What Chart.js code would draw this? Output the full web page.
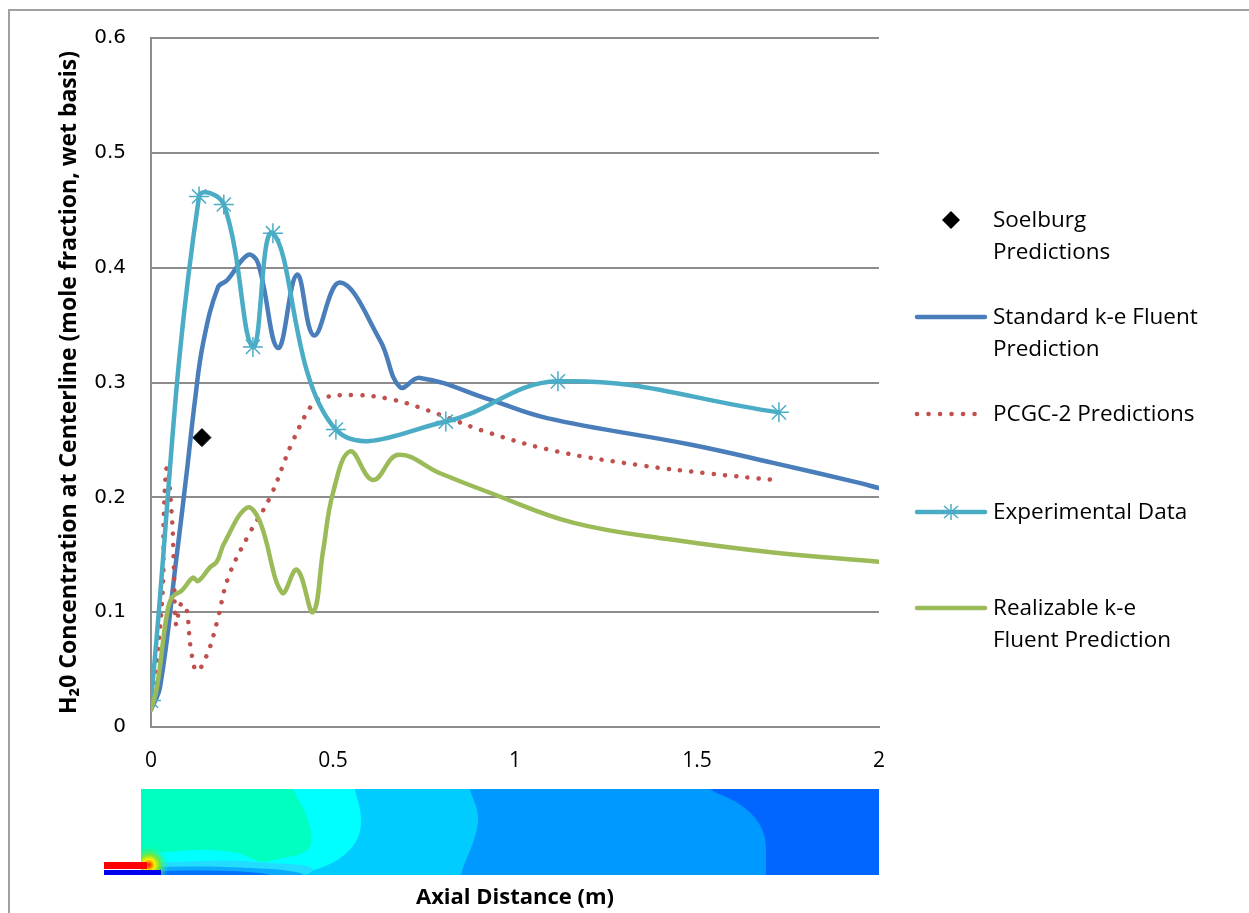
<!DOCTYPE html>
<html>
<head>
<meta charset="utf-8">
<script src="https://cdn.jsdelivr.net/npm/chart.js@4.4.0/dist/chart.umd.min.js"></script>
<style>
  html, body { margin: 0; padding: 0; background: #fff; }
  #wrap { position: relative; width: 1249px; height: 913px; overflow: hidden; }
  #frame { position: absolute; left: 8px; top: 9px; width: 1400px; height: 1000px; border: 2px solid #a0a0a0; box-sizing: border-box; }
  #chart { position: absolute; left: 0; top: 0; }
  .lg { position: absolute; left: 993px; font-family: "Open Sans", sans-serif; font-size: 22.5px; line-height: 32px; color: #000; white-space: nowrap; }
  .sw { position: absolute; left: 910px; }
</style>
</head>
<body>
<div id="wrap">
  <div id="frame"></div>
  <canvas id="chart" width="1249" height="913"></canvas>

  <svg class="sw" style="top:210px" width="82" height="20"><path d="M41 1 L50 10 L41 19 L32 10 Z" fill="#000"/></svg>
  <div class="lg" style="top:203px">Soelburg<br>Predictions</div>

  <svg class="sw" style="top:307px" width="82" height="20"><line x1="7" y1="10" x2="75" y2="10" stroke="#4A7EBB" stroke-width="4.5" stroke-linecap="round"/></svg>
  <div class="lg" style="top:300px">Standard k-e Fluent<br>Prediction</div>

  <svg class="sw" style="top:404px" width="82" height="20"><line x1="7" y1="10" x2="75" y2="10" stroke="#C0504D" stroke-width="4.5" stroke-linecap="round" stroke-dasharray="0.1 11.4"/></svg>
  <div class="lg" style="top:397px">PCGC-2 Predictions</div>

  <svg class="sw" style="top:502px" width="82" height="20"><line x1="7" y1="10" x2="75" y2="10" stroke="#4BACC6" stroke-width="4.5" stroke-linecap="round"/>
    <g stroke="#4BACC6" stroke-width="1.5"><line x1="41" y1="2" x2="41" y2="18"/><line x1="34" y1="4" x2="48" y2="16"/><line x1="48" y1="4" x2="34" y2="16"/></g></svg>
  <div class="lg" style="top:495px">Experimental Data</div>

  <svg class="sw" style="top:598px" width="82" height="20"><line x1="7" y1="10" x2="75" y2="10" stroke="#9BBB59" stroke-width="4.5" stroke-linecap="round"/></svg>
  <div class="lg" style="top:591px">Realizable k-e<br>Fluent Prediction</div>
</div>

<script>
// values
const soelburgX = [0.14];
const soelburgY = [0.252];

const standardX = [0, 0.025, 0.069, 0.099, 0.121, 0.143, 0.184, 0.209, 0.266, 0.294, 0.349, 0.401, 0.448, 0.519, 0.629, 0.684, 0.739, 0.931, 1.088, 1.481, 1.709, 1.94, 2.0];
const standardY = [0.015, 0.035, 0.145, 0.224, 0.285, 0.334, 0.383, 0.389, 0.411, 0.404, 0.330, 0.394, 0.341, 0.387, 0.337, 0.296, 0.304, 0.285, 0.269, 0.246, 0.230, 0.213, 0.208];

const pcgcX = [0, 0.019, 0.033, 0.035, 0.044, 0.058, 0.063, 0.069, 0.082, 0.096, 0.110, 0.126, 0.154, 0.181, 0.212, 0.266, 0.327, 0.387, 0.445, 0.473, 0.566, 0.665, 0.758, 0.931, 1.115, 1.343, 1.527, 1.714];
const pcgcY = [0.019, 0.067, 0.125, 0.183, 0.226, 0.180, 0.137, 0.089, 0.107, 0.105, 0.067, 0.049, 0.063, 0.091, 0.130, 0.166, 0.200, 0.247, 0.282, 0.287, 0.289, 0.285, 0.276, 0.256, 0.240, 0.228, 0.221, 0.215];

const experimentalX = [0, 0.132, 0.2, 0.28, 0.335, 0.508, 0.81, 1.118, 1.725];
const experimentalY = [0.023, 0.462, 0.455, 0.331, 0.430, 0.259, 0.266, 0.301, 0.274];

const realizableX = [0, 0.016, 0.044, 0.058, 0.085, 0.115, 0.129, 0.162, 0.181, 0.201, 0.264, 0.299, 0.360, 0.401, 0.445, 0.473, 0.500, 0.547, 0.610, 0.679, 0.794, 0.931, 1.159, 1.434, 1.709, 2.0];
const realizableY = [0.015, 0.034, 0.099, 0.113, 0.119, 0.130, 0.127, 0.139, 0.144, 0.160, 0.191, 0.179, 0.117, 0.137, 0.100, 0.154, 0.204, 0.240, 0.215, 0.237, 0.221, 0.204, 0.178, 0.163, 0.152, 0.144];

const xTicks = [0, 0.5, 1, 1.5, 2];
const yTicks = [0, 0.1, 0.2, 0.3, 0.4, 0.5, 0.6];

function pts(xs, ys) { return xs.map((x, i) => ({ x: x, y: ys[i] })); }

// smooth closed shape through points (midpoint quadratics)
function smoothShape(ctx, p, color) {
  ctx.fillStyle = color;
  ctx.beginPath();
  const n = p.length;
  let m0 = [(p[n - 1][0] + p[0][0]) / 2, (p[n - 1][1] + p[0][1]) / 2];
  ctx.moveTo(m0[0], m0[1]);
  for (let i = 0; i < n; i++) {
    const a = p[i], b = p[(i + 1) % n];
    ctx.quadraticCurveTo(a[0], a[1], (a[0] + b[0]) / 2, (a[1] + b[1]) / 2);
  }
  ctx.closePath();
  ctx.fill();
}

// CFD contour strip under the x axis
const contourPlugin = {
  id: 'contour',
  afterDraw(chart) {
    const ctx = chart.ctx;
    const xs = chart.scales.x;
    const L = xs.getPixelForValue(0) - 10, R = xs.getPixelForValue(2);
    const T = 789, B = 875;
    ctx.save();
    ctx.beginPath();
    ctx.rect(L, T, R - L, B - T);
    ctx.clip();
    ctx.fillStyle = '#0066FF';
    ctx.fillRect(L, T, R - L, B - T);
    smoothShape(ctx, [[100, 760], [700, 760], [705, 789], [735, 800], [756, 817], [766, 837], [766, 860], [766, 900], [100, 900]], '#0099FF');
    smoothShape(ctx, [[100, 760], [466, 760], [469, 789], [477, 807], [479, 823], [472, 847], [462, 868], [456, 900], [100, 900]], '#00CCFF');
    smoothShape(ctx, [[100, 760], [352, 760], [354, 789], [361, 810], [361, 833], [351, 850], [331, 865], [300, 874], [280, 900], [100, 900]], '#00FFFF');
    smoothShape(ctx, [[100, 760], [288, 760], [292, 789], [305, 810], [313, 837], [308, 853], [282, 858], [262, 863], [250, 858], [238, 852], [200, 849], [160, 853], [100, 852]], '#00FFC0');
    // near-wall layers
    smoothShape(ctx, [[100, 866], [170, 862], [230, 860], [270, 863], [320, 866], [300, 880], [100, 880]], '#22DDFF');
    smoothShape(ctx, [[100, 869], [180, 866], [240, 867], [300, 871], [310, 880], [100, 880]], '#0AAAFF');
    smoothShape(ctx, [[100, 872], [200, 870], [260, 872], [290, 880], [100, 880]], '#0070FF');
    // hot spot at the inlet
    const g = ctx.createRadialGradient(L + 8, 865, 1, L + 8, 865, 20);
    g.addColorStop(0, 'rgba(255,60,0,1)');
    g.addColorStop(0.25, 'rgba(255,240,0,1)');
    g.addColorStop(0.5, 'rgba(120,230,40,0.9)');
    g.addColorStop(1, 'rgba(0,255,192,0)');
    ctx.fillStyle = g;
    ctx.fillRect(L, 840, 34, 35);
    ctx.restore();
    // fuel inlet and wall
    ctx.fillStyle = '#FF0000';
    ctx.fillRect(104, 862, L + 6 - 104, 7);
    ctx.fillStyle = '#0000EE';
    ctx.fillRect(104, 870, L + 20 - 104, 5);
  }
};

const axisGray = '#8C8C8C';
const fmt = v => String(Math.round(v * 10) / 10);

new Chart(document.getElementById('chart').getContext('2d'), {
  type: 'scatter',
  data: {
    datasets: [
      {
        label: 'Realizable k-e Fluent Prediction',
        data: pts(realizableX, realizableY),
        showLine: true, borderColor: '#9BBB59', borderWidth: 4.5, tension: 0.4,
        pointRadius: 0, borderCapStyle: 'round', borderJoinStyle: 'round'
      },
      {
        label: 'Experimental Data',
        data: pts(experimentalX, experimentalY),
        showLine: true, borderColor: '#4BACC6', borderWidth: 4.5, tension: 0.4,
        pointStyle: 'star', pointRadius: 10, pointBorderWidth: 1.5,
        pointBorderColor: '#4BACC6', pointBackgroundColor: '#4BACC6', borderCapStyle: 'round'
      },
      {
        label: 'PCGC-2 Predictions',
        data: pts(pcgcX, pcgcY),
        showLine: true, borderColor: '#C0504D', borderWidth: 4.5, tension: 0.4,
        borderDash: [0.1, 11.2], borderCapStyle: 'round', pointRadius: 0
      },
      {
        label: 'Standard k-e Fluent Prediction',
        data: pts(standardX, standardY),
        showLine: true, borderColor: '#4A7EBB', borderWidth: 4.5, tension: 0.4,
        pointRadius: 0, borderCapStyle: 'round', borderJoinStyle: 'round'
      },
      {
        label: 'Soelburg Predictions',
        data: pts(soelburgX, soelburgY),
        showLine: false, pointStyle: 'rectRot', pointRadius: 9,
        pointBackgroundColor: '#000', pointBorderColor: '#000', pointBorderWidth: 1
      }
    ]
  },
  options: {
    responsive: false,
    animation: false,
    events: [],
    layout: { padding: { left: 0, top: 38, right: 370, bottom: 0 } },
    plugins: { legend: { display: false }, tooltip: { enabled: false } },
    scales: {
      x: {
        type: 'linear', min: 0, max: 2,
        afterBuildTicks: s => { s.ticks = xTicks.map(v => ({ value: v })); },
        afterFit: s => { s.height = 186; },
        grid: { display: true, drawOnChartArea: false, drawTicks: false },
        border: { display: true, color: axisGray, width: 2 },
        ticks: { padding: 21, color: '#000', font: { family: 'Open Sans', size: 21 }, maxRotation: 0, callback: fmt },
        title: { display: true, text: 'Axial Distance (m)', color: '#000',
          font: { family: 'Open Sans', size: 22, weight: 'bold' }, padding: { top: 0, bottom: 2 } }
      },
      y: {
        type: 'linear', min: 0, max: 0.6,
        afterBuildTicks: s => { s.ticks = yTicks.map(v => ({ value: v })); },
        afterFit: s => { s.width = 151; },
        grid: { color: axisGray, lineWidth: 2, drawTicks: false },
        border: { display: true, color: axisGray, width: 2 },
        ticks: { padding: 25, color: '#000', font: { family: 'DejaVu Sans', size: 20 }, callback: fmt },
        title: { display: true, text: 'H\u20820 Concentration at Centerline (mole fraction, wet basis)', color: '#000',
          font: { family: 'Open Sans', size: 23, weight: 'bold' }, padding: { top: 56, bottom: 0 } }
      }
    }
  },
  plugins: [contourPlugin]
});
</script>
</body>
</html>
